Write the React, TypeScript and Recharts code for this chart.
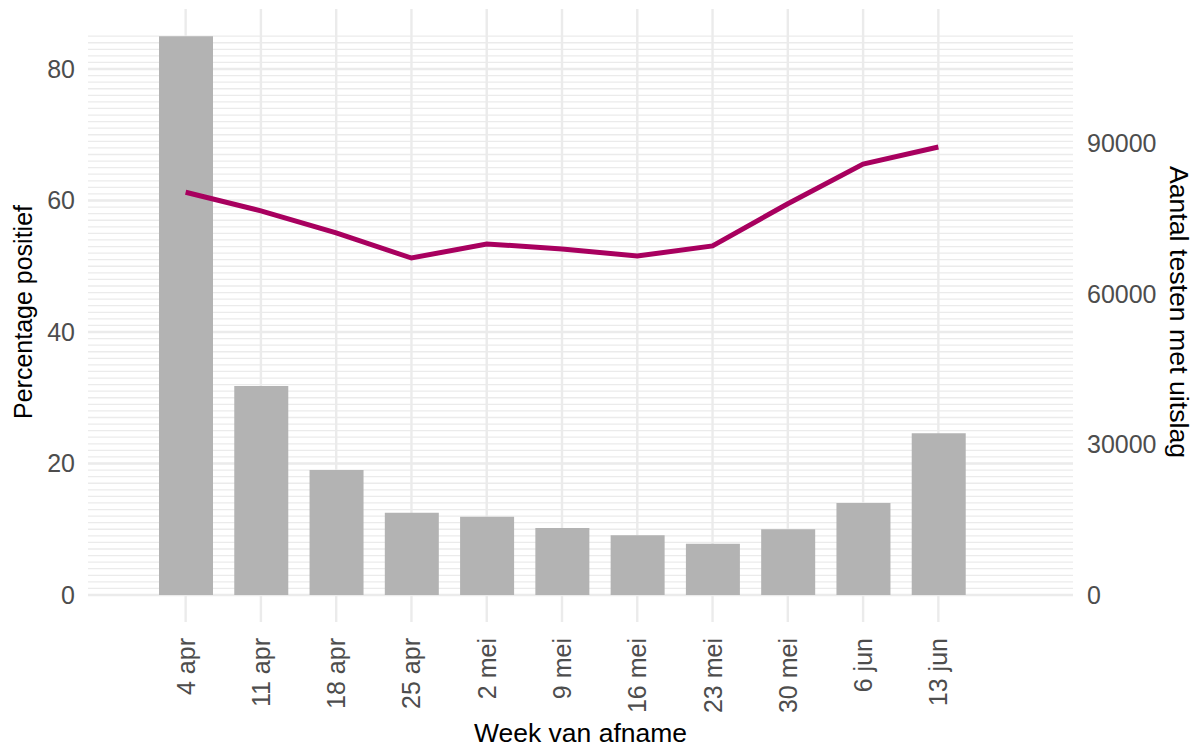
import React from "react";
import {
  ComposedChart,
  Bar,
  Line,
  XAxis,
  YAxis,
  CartesianGrid,
  Label,
} from "recharts";

const weeks = ["4 apr", "11 apr", "18 apr", "25 apr", "2 mei", "9 mei", "16 mei", "23 mei", "30 mei", "6 jun", "13 jun"];
const percentagePositief = [85, 31.8, 19.0, 12.5, 11.9, 10.2, 9.1, 7.8, 10.0, 14.0, 24.6];
const aantalTesten = [80200, 76500, 72100, 67100, 69900, 68900, 67500, 69500, 77900, 85800, 89200];

const leftTicks = [0, 20, 40, 60, 80];
const rightTicks = [0, 30000, 60000, 90000];
const minorGrid = Array.from({ length: 86 }, (_, i) => i);

const FONT = "'Liberation Sans', Arial, Helvetica, sans-serif";
const GRID = "#ebebeb";

const data = weeks.map((week, i) => ({
  week,
  pct: percentagePositief[i],
  tests: aantalTesten[i],
}));

function WeekTick(props: any) {
  const { x, y, payload } = props;
  return (
    <text
      x={x}
      y={y}
      transform={`rotate(-90, ${x}, ${y})`}
      textAnchor="end"
      dominantBaseline="central"
      fontSize={25}
      fontFamily={FONT}
      fill="#4d4d4d"
    >
      {payload.value}
    </text>
  );
}

function SideTitle({ viewBox, value, side }: any) {
  const cx = side === "left" ? 23 : 1179;
  const cy = viewBox.y + viewBox.height / 2 + 10;
  return (
    <text
      x={cx}
      y={cy}
      transform={`rotate(${side === "left" ? -90 : 90}, ${cx}, ${cy})`}
      textAnchor="middle"
      dominantBaseline="central"
      fontSize={side === "left" ? 25 : 26.7}
      fontFamily={FONT}
      fill="#000"
    >
      {value}
    </text>
  );
}

export default function App() {
  return (
    <div style={{ position: "absolute", left: 0, top: 0, background: "#fff" }}>
      <ComposedChart
        width={1196}
        height={748}
        data={data}
        margin={{ top: 9, right: 0, bottom: 0, left: 0 }}
      >
        <CartesianGrid
          yAxisId="left"
          horizontalValues={minorGrid}
          syncWithTicks
          vertical={false}
          stroke={GRID}
          strokeWidth={1.3}
        />
        <CartesianGrid
          yAxisId="left"
          syncWithTicks
          stroke={GRID}
          strokeWidth={2.4}
        />
        <XAxis
          dataKey="week"
          height={153}
          padding={{ left: 60, right: 97 }}
          axisLine={false}
          tickLine={{ stroke: GRID, strokeWidth: 2.4 }}
          tickSize={27}
          tickMargin={16}
          interval={0}
          tick={<WeekTick />}
        >
          <Label
            value="Week van afname"
            position="insideBottom"
            offset={6}
            fontSize={26.5}
            fontFamily={FONT}
            fill="#000"
          />
        </XAxis>
        <YAxis
          yAxisId="left"
          orientation="left"
          width={88}
          domain={[0, 89.13]}
          ticks={leftTicks}
          interval={0}
          axisLine={false}
          tickLine={false}
          tickSize={0}
          tickMargin={13}
          tick={{ fontSize: 25, fontFamily: FONT, fill: "#4d4d4d" }}
          label={<SideTitle value="Percentage positief" side="left" />}
        />
        <YAxis
          yAxisId="right"
          orientation="right"
          width={123}
          domain={[0, 116680]}
          ticks={rightTicks}
          axisLine={false}
          tickLine={false}
          tickSize={0}
          tickMargin={14}
          tick={{ fontSize: 25, fontFamily: FONT, fill: "#4d4d4d" }}
          label={<SideTitle value="Aantal testen met uitslag" side="right" />}
        />
        <Bar
          yAxisId="left"
          dataKey="pct"
          fill="#b3b3b3"
          barSize={54}
          isAnimationActive={false}
        />
        <Line
          yAxisId="right"
          dataKey="tests"
          type="linear"
          stroke="#a8005f"
          strokeWidth={5}
          dot={false}
          activeDot={false}
          isAnimationActive={false}
        />
      </ComposedChart>
    </div>
  );
}
